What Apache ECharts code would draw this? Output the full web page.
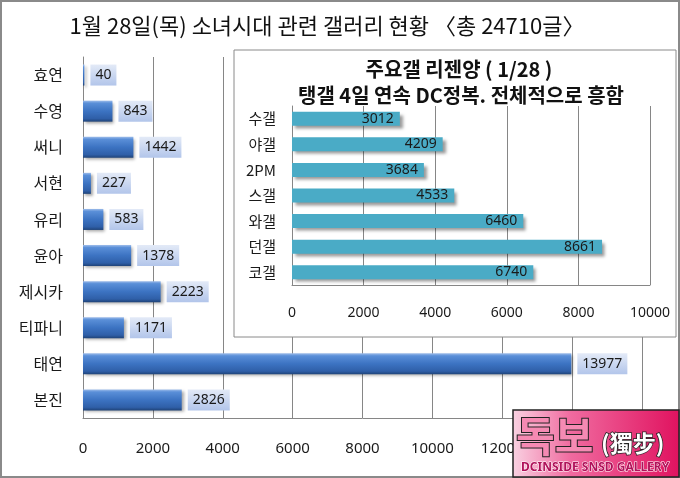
<!DOCTYPE html>
<html>
<head>
<meta charset="utf-8">
<script src="https://cdn.jsdelivr.net/npm/echarts@6/dist/echarts.min.js"></script>
<style>html,body{margin:0;padding:0;background:#fff}#c{width:680px;height:478px}</style>
</head>
<body>
<div id="c"></div>
<script>
const mainCategories = ['효연','수영','써니','서현','유리','윤아','제시카','티파니','태연','본진'];
const mainValues = [40, 843, 1442, 227, 583, 1378, 2223, 1171, 13977, 2826];
const mainTicks = {min: 0, max: 16000, interval: 2000};

const insetCategories = ['수갤','야갤','2PM','스갤','와갤','던갤','코갤'];
const insetValues = [3012, 4209, 3684, 4533, 6460, 8661, 6740];
const insetTicks = {min: 0, max: 10000, interval: 2000};

const titleText = '1월 28일(목) 소녀시대 관련 갤러리 현황 〈총 24710글〉';
const insetTitle1 = '주요갤 리젠양 ( 1/28 )';
const insetTitle2 = '탱갤 4일 연속 DC정복. 전체적으로 흥함';
const logoMain = '독보';
const logoHanja = '(獨步)';
const logoSub = 'DCINSIDE SNSD GALLERY';

const KR = '"Noto Sans CJK KR", "Noto Sans", sans-serif';
const NUM = '"Noto Sans", "Open Sans", sans-serif';
const plain = v => String(v);

const chart = echarts.init(document.getElementById('c'), null, {renderer: 'canvas'});

const barGrad = new echarts.graphic.LinearGradient(0, 0, 0, 1, [
  {offset: 0, color: '#9dbcea'},
  {offset: 0.12, color: '#5a8fd8'},
  {offset: 0.5, color: '#3c73c2'},
  {offset: 0.85, color: '#2f5fa8'},
  {offset: 1, color: '#1f4378'}
]);
const labelGrad = new echarts.graphic.LinearGradient(0, 0, 0, 1, [
  {offset: 0, color: '#e3eaf7'},
  {offset: 1, color: '#b2c5ea'}
]);

chart.setOption({
  animation: false,
  backgroundColor: '#ffffff',
  title: {
    text: titleText,
    left: 322, top: 10, textAlign: 'center',
    textStyle: {fontFamily: KR, fontSize: 22, fontWeight: 'normal', color: '#111'}
  },
  grid: [
    {left: 83, right: 38, top: 57, bottom: 60, containLabel: false},
    {left: 292, right: 30, top: 106, bottom: 193, containLabel: false}
  ],
  xAxis: [
    {
      type: 'value', gridIndex: 0, min: mainTicks.min, max: mainTicks.max, interval: mainTicks.interval,
      axisLine: {show: true, lineStyle: {color: '#868686'}},
      axisTick: {show: false},
      splitLine: {show: true, lineStyle: {color: '#868686', width: 1}},
      axisLabel: {margin: 23, fontFamily: NUM, fontSize: 15, color: '#1a1a1a', formatter: plain}
    },
    {
      type: 'value', gridIndex: 1, min: insetTicks.min, max: insetTicks.max, interval: insetTicks.interval, z: 10,
      axisLine: {show: true, lineStyle: {color: '#868686'}},
      axisTick: {show: false},
      splitLine: {show: true, lineStyle: {color: '#868686', width: 1}},
      axisLabel: {margin: 21, fontFamily: NUM, fontSize: 14, color: '#1a1a1a', formatter: plain}
    }
  ],
  yAxis: [
    {
      type: 'category', gridIndex: 0, data: mainCategories, inverse: true,
      axisLine: {show: true, lineStyle: {color: '#868686'}},
      axisTick: {show: false},
      axisLabel: {margin: 20, fontFamily: KR, fontSize: 16, color: '#1a1a1a'}
    },
    {
      type: 'category', gridIndex: 1, data: insetCategories, inverse: true, z: 10,
      axisLine: {show: true, lineStyle: {color: '#868686'}},
      axisTick: {show: false},
      axisLabel: {margin: 16, fontFamily: KR, fontSize: 15, color: '#1a1a1a'}
    }
  ],
  series: [
    {
      type: 'bar', xAxisIndex: 0, yAxisIndex: 0, data: mainValues,
      barWidth: 21,
      itemStyle: {
        color: barGrad,
        shadowColor: 'rgba(0,0,0,0.35)', shadowBlur: 3, shadowOffsetX: 2, shadowOffsetY: 2
      },
      label: {
        show: true, position: 'right', distance: 6, formatter: p => String(p.value),
        fontFamily: NUM, fontSize: 14, color: '#1a1a1a',
        backgroundColor: labelGrad, padding: [4, 5, 3, 5]
      }
    },
    {
      type: 'bar', xAxisIndex: 1, yAxisIndex: 1, data: insetValues, z: 10,
      barWidth: 14,
      itemStyle: {
        color: '#4aabc6',
        shadowColor: 'rgba(0,0,0,0.4)', shadowBlur: 3, shadowOffsetX: 3, shadowOffsetY: 3
      },
      label: {
        show: true, position: 'insideRight', distance: 6, formatter: p => String(p.value),
        fontFamily: NUM, fontSize: 14, color: '#1a1a1a'
      }
    }
  ],
  graphic: [
    {type: 'rect', z: 5, shape: {x: 234, y: 50, width: 442, height: 287},
     style: {fill: '#ffffff', stroke: '#8a8a8a', lineWidth: 1}},
    {type: 'text', z: 6, x: 459, y: 69,
     style: {text: insetTitle1, fontFamily: KR, fontSize: 20, fontWeight: 'bold', fill: '#111', align: 'center', verticalAlign: 'middle'}},
    {type: 'text', z: 6, x: 461, y: 95,
     style: {text: insetTitle2, fontFamily: KR, fontSize: 20, fontWeight: 'bold', fill: '#111', align: 'center', verticalAlign: 'middle'}},
    {type: 'rect', z: 0, silent: true, shape: {x: 1, y: 1, width: 678, height: 476},
     style: {fill: 'none', stroke: '#8a8a8a', lineWidth: 2}},
    {type: 'rect', z: 20, shape: {x: 513, y: 410, width: 166, height: 67},
     style: {
       fill: new echarts.graphic.LinearGradient(0, 0, 1, 0, [
         {offset: 0, color: '#f9d2e2'},
         {offset: 0.35, color: '#f06a9f'},
         {offset: 1, color: '#e0125f'}
       ]),
       stroke: '#222', lineWidth: 1.5
     }},
    {type: 'text', z: 21, x: 516, y: 436,
     style: {text: logoMain, fontFamily: KR, fontSize: 42, fontWeight: 'bold', fill: '#f58ab3', stroke: '#222', lineWidth: 2, verticalAlign: 'middle'}},
    {type: 'text', z: 21, x: 601, y: 443,
     style: {text: logoHanja, fontFamily: KR, fontSize: 23, fontWeight: 'bold', fill: '#ffffff', stroke: '#222', lineWidth: 1.5, verticalAlign: 'middle'}},
    {type: 'text', z: 21, x: 521, y: 468,
     style: {text: logoSub, fontFamily: NUM, fontSize: 12, fontWeight: 'bold', fill: '#b0125a', stroke: '#ffffff', lineWidth: 1, verticalAlign: 'middle'}}
  ]
});
</script>
</body>
</html>
